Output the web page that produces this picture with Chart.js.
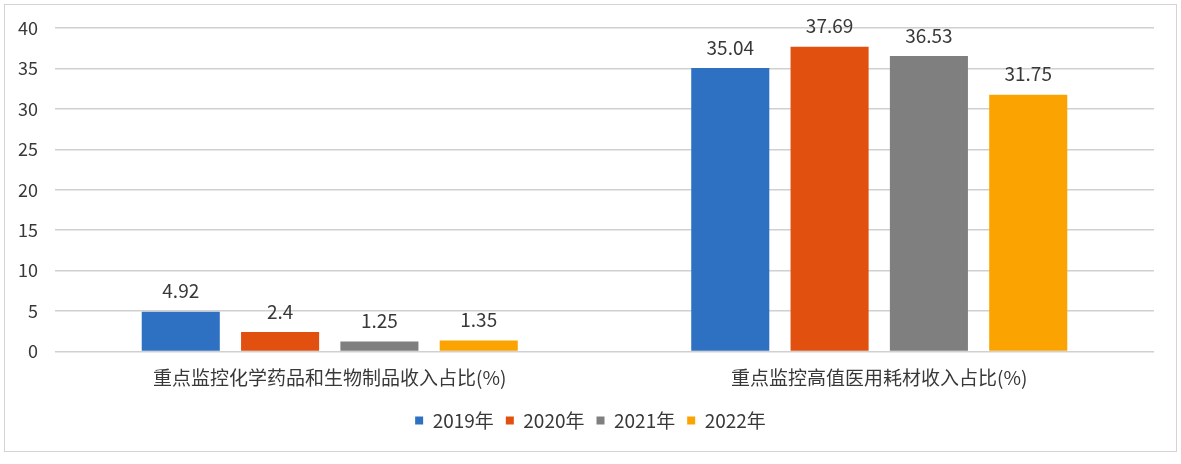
<!DOCTYPE html>
<html>
<head>
<meta charset="utf-8">
<script src="https://cdn.jsdelivr.net/npm/chart.js@4"></script>
<style>
  html, body { margin: 0; padding: 0; background: #ffffff; }
  #frame { position: absolute; left: 4px; top: 4px; width: 1171px; height: 446px; border: 1.5px solid #d4d4d4; }
  #wrap { position: absolute; left: 0; top: 0; width: 1181px; height: 464px; }
</style>
</head>
<body>
<div id="frame"></div>
<div id="wrap"><canvas id="c" width="1181" height="464"></canvas></div>
<script>
const categories = ['重点监控化学药品和生物制品收入占比(%)', '重点监控高值医用耗材收入占比(%)'];
const seriesNames = ['2019年', '2020年', '2021年', '2022年'];
const values2019 = [4.92, 35.04];
const values2020 = [2.4, 37.69];
const values2021 = [1.25, 36.53];
const values2022 = [1.35, 31.75];
const yTicks = [0, 5, 10, 15, 20, 25, 30, 35, 40];
const colors = ['#2E71C2', '#E2500F', '#7F7F7F', '#FBA300'];

const FONT = '"Noto Sans CJK SC", "Noto Sans", sans-serif';
const TEXT = '#383838';

const valueLabels = {
  id: 'valueLabels',
  afterDatasetsDraw(chart) {
    const ctx = chart.ctx;
    ctx.save();
    ctx.font = '19px ' + FONT;
    ctx.fillStyle = TEXT;
    ctx.textAlign = 'center';
    ctx.textBaseline = 'bottom';
    chart.data.datasets.forEach((ds, i) => {
      const meta = chart.getDatasetMeta(i);
      meta.data.forEach((el, j) => {
        ctx.fillText(String(ds.data[j]), el.x, el.y - 11);
      });
    });
    ctx.restore();
  }
};

const allSeries = [values2019, values2020, values2021, values2022];

new Chart(document.getElementById('c'), {
  type: 'bar',
  data: {
    labels: categories,
    datasets: seriesNames.map((name, i) => ({
      label: name,
      data: allSeries[i],
      backgroundColor: colors[i],
      borderWidth: 0,
      categoryPercentage: 0.723,
      barPercentage: 0.786
    }))
  },
  options: {
    responsive: false,
    animation: false,
    devicePixelRatio: 1,
    layout: { padding: { left: 0, right: 0, top: 28, bottom: 24 } },
    plugins: {
      legend: {
        position: 'bottom',
        labels: {
          font: { family: FONT, size: 19 },
          color: TEXT,
          boxWidth: 8,
          boxHeight: 8,
          padding: 12
        }
      },
      tooltip: { enabled: false }
    },
    scales: {
      x: {
        grid: { display: false, drawTicks: false },
        border: { display: false },
        afterFit(scale) { scale.height = 47.5; },
        ticks: { font: { family: FONT, size: 19 }, color: TEXT, padding: 15, maxRotation: 0 }
      },
      y: {
        min: 0,
        max: 40,
        afterBuildTicks(scale) { scale.ticks = yTicks.map(v => ({ value: v })); },
        afterFit(scale) { scale.width = 55; },
        grid: { color: '#d0d0d0', lineWidth: 1.5, drawTicks: false },
        border: { display: false },
        ticks: { font: { family: FONT, size: 18 }, color: TEXT, padding: 17 }
      },
      yRightSpace: {
        position: 'right',
        display: true,
        min: 0,
        max: 40,
        afterFit(scale) { scale.width = 27; },
        grid: { display: false, drawTicks: false },
        border: { display: false },
        ticks: { display: false }
      }
    }
  },
  plugins: [valueLabels]
});
</script>
</body>
</html>
